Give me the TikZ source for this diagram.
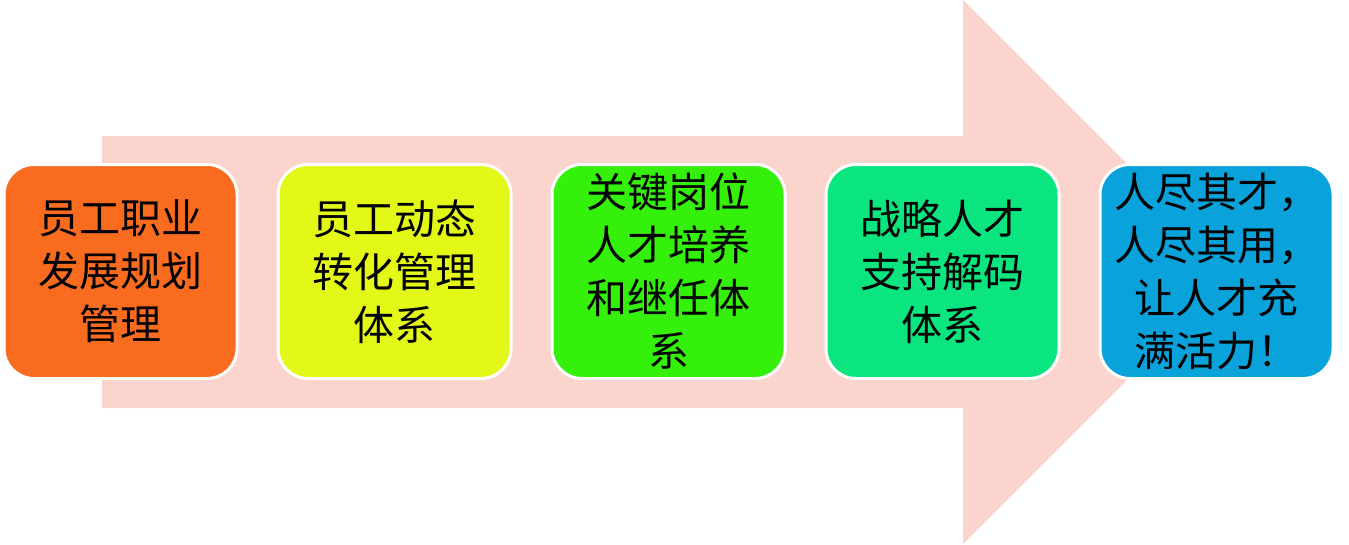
\documentclass[tikz,border=0pt]{standalone}
\usepackage{fontspec}
\newfontfamily\cjk{Noto Sans CJK SC}
\usetikzlibrary{positioning}

\definecolor{arrowpink}{HTML}{FBD5CD}
\definecolor{stageorange}{HTML}{F96B1E}
\definecolor{stageyellow}{HTML}{E3F816}
\definecolor{stagegreen}{HTML}{35F00B}
\definecolor{stagemint}{HTML}{0AE57F}
\definecolor{stageblue}{HTML}{0AA2DB}

\begin{document}
\begin{tikzpicture}[x=1pt,y=-1pt,
  stage/.style={rectangle, draw=white, line width=3pt, rounded corners=30pt,
    minimum width=233pt, minimum height=214pt, inner sep=0pt, align=center,
    font=\cjk\fontsize{41}{53}\selectfont},
  bigarrow/.style={fill=arrowpink}]

  \useasboundingbox (0,0) rectangle (1349,544);
  % the pink arrow behind the stages
  \fill[bigarrow] (102,136) -- (963,136) -- (963,0) -- (1235,272)
    -- (963,544) -- (963,408) -- (102,408) -- cycle;

  \node[stage, fill=stageorange] (career) at (120.5,271.5) {员工职业\\发展规划\\管理};
  \node[stage, fill=stageyellow, right=38pt of career] (dynamic) {员工动态\\转化管理\\体系};
  \node[stage, fill=stagegreen, right=38pt of dynamic] (keypost) {关键岗位\\人才培养\\和继任体\\系};
  \node[stage, fill=stagemint, right=38pt of keypost] (strategy) {战略人才\\支持解码\\体系};
  \node[stage, fill=stageblue, right=38pt of strategy] (goal) {人尽其才，\\人尽其用，\\让人才充\\满活力！};
\end{tikzpicture}
\end{document}
